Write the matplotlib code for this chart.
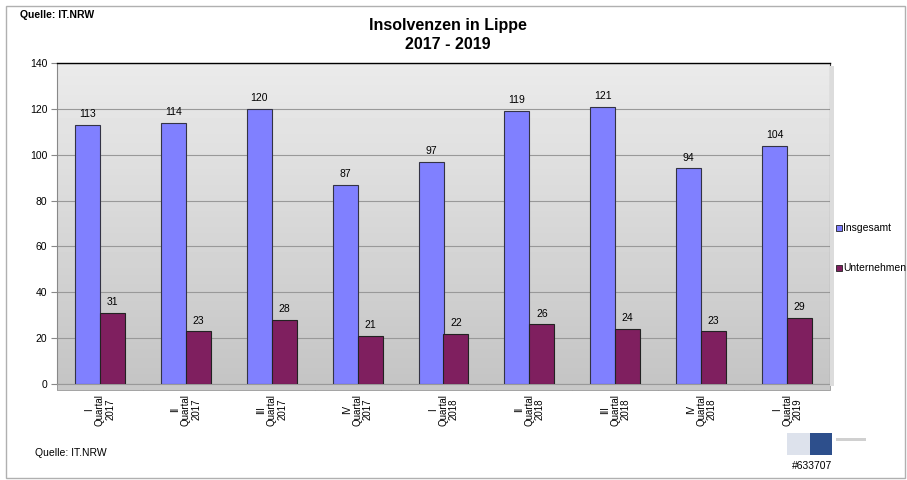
import matplotlib.pyplot as plt
import matplotlib.patches as mpatches
import numpy as np

plt.rcParams["font.family"] = ["Liberation Sans", "DejaVu Sans"]

# data
quarters = ["I", "II", "III", "IV", "I", "II", "III", "IV", "I"]
years = ["2017", "2017", "2017", "2017", "2018", "2018", "2018", "2018", "2019"]
insgesamt = [113, 114, 120, 87, 97, 119, 121, 94, 104]
unternehmen = [31, 23, 28, 21, 22, 26, 24, 23, 29]

blue = "#8080ff"
purple = "#7f1f5f"

fig = plt.figure(figsize=(9.07, 4.8), dpi=100)
fig.patch.set_facecolor("white")
# outer frame
fig.add_artist(mpatches.Rectangle((6 / 907, 0.005), 1 - 8 / 907, 1 - 8 / 480,
                                  transform=fig.transFigure, fill=False,
                                  ec="#b0b0b0", lw=1.0))
# right-hand shadow of the plot area
fig.add_artist(mpatches.Rectangle((830 / 907, 1 - 386 / 480), 4 / 907, (386 - 66) / 480,
                                  transform=fig.transFigure, fc="#dcdcdc", ec="none"))

ax = fig.add_axes([57 / 907, 1 - 384 / 480, (830 - 57) / 907, (384 - 63) / 480])

# gradient background
grad = np.linspace(0.92, 0.77, 100)[:, None]
ax.imshow(grad, extent=[-0.5, len(quarters) - 0.5, 0, 140], aspect="auto",
          cmap="gray", vmin=0, vmax=1, zorder=0, origin="upper")

x = np.arange(len(quarters))
w = 0.29
ax.bar(x - w / 2, insgesamt, w, color=blue, edgecolor="#333344", lw=0.8,
       zorder=3, label="Insgesamt")
ax.bar(x + w / 2, unternehmen, w, color=purple, edgecolor="#222222", lw=0.8,
       zorder=3, label="Unternehmen")
for xi, v in zip(x, insgesamt):
    ax.text(xi - w / 2, v + 2.5, str(v), ha="center", va="bottom", fontsize=7.5)
for xi, v in zip(x, unternehmen):
    ax.text(xi + w / 2, v + 2.5, str(v), ha="center", va="bottom", fontsize=7.5)

ax.set_xlim(-0.5, len(quarters) - 0.5)
ax.set_ylim(0, 140)
ax.set_yticks(np.arange(0, 141, 20))
ax.tick_params(axis="y", labelsize=7.5, length=4, color="#888888", pad=3)
ax.yaxis.grid(True, color="#999999", lw=0.8, zorder=1)
ax.set_axisbelow(True)

# floor strip below zero
ax.add_patch(mpatches.Rectangle((0, -0.018), 1, 0.018, transform=ax.transAxes,
                                facecolor="#c8c8c8", edgecolor="#999999",
                                lw=0.6, clip_on=False, zorder=2))
ax.set_xticks(np.arange(len(quarters)) - 0.5, minor=True)
ax.set_xticks(x)
ax.set_xticklabels([f"{q}\nQuartal\n{y}" for q, y in zip(quarters, years)],
                   rotation=90, fontsize=7, linespacing=1.05)
ax.tick_params(axis="x", which="major", length=0, pad=7)
ax.tick_params(axis="x", which="minor", length=4, color="#888888")

ax.spines["top"].set_color("black")
ax.spines["top"].set_linewidth(1.0)
ax.spines["right"].set_color("#444444")
ax.spines["left"].set_color("#888888")
ax.spines["bottom"].set_color("#999999")

fig.text(0.494, 1 - 18 / 480, "Insolvenzen in Lippe\n2017 - 2019", ha="center",
         va="top", fontsize=11.5, fontweight="bold", linespacing=1.3)
fig.text(20 / 907, 1 - 15 / 480, "Quelle: IT.NRW", ha="left", va="center",
         fontsize=7.5, fontweight="bold")
fig.text(35 / 907, 1 - 453 / 480, "Quelle: IT.NRW", ha="left", va="center",
         fontsize=7.5)
fig.text(812 / 907, 1 - 466 / 480, "#633707", ha="center", va="center",
         fontsize=7.5)

# legend
for yy, col, lab in [(228, blue, "Insgesamt"), (268, purple, "Unternehmen")]:
    fig.add_artist(mpatches.Rectangle((836 / 907, 1 - (yy + 3) / 480), 6 / 907, 6 / 480,
                                      transform=fig.transFigure, fc=col, ec="#222222", lw=0.6))
    fig.text(843 / 907, 1 - yy / 480, lab, ha="left", va="center", fontsize=7.5)

# logo placeholder (blurred in reference)
fig.add_artist(mpatches.Rectangle((787 / 907, 1 - 455 / 480), 23 / 907, 22 / 480,
                                  transform=fig.transFigure, fc="#dde2ec", ec="none"))
fig.add_artist(mpatches.Rectangle((810 / 907, 1 - 455 / 480), 22 / 907, 22 / 480,
                                  transform=fig.transFigure, fc="#2d4f8c", ec="none"))
fig.add_artist(mpatches.Rectangle((836 / 907, 1 - 441 / 480), 30 / 907, 3 / 480,
                                  transform=fig.transFigure, fc="#d0d0d0", ec="none"))

fig.savefig("out.png", dpi=100)
